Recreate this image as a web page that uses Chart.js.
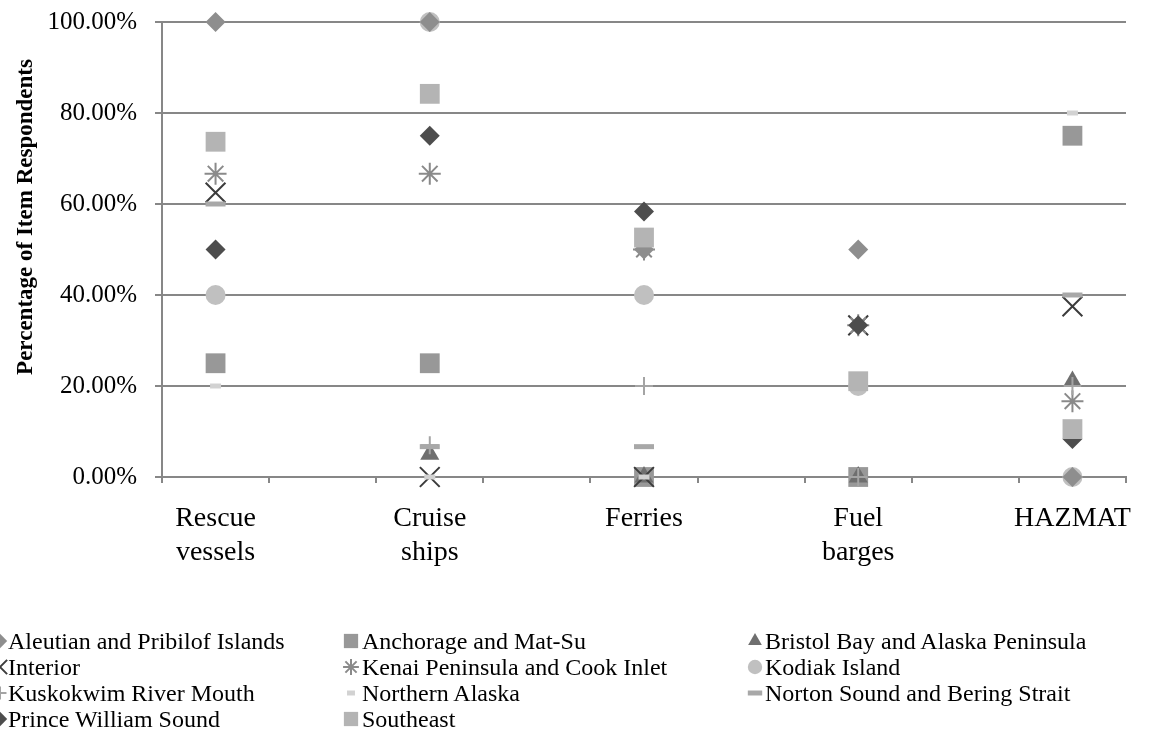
<!DOCTYPE html>
<html lang="en">
<head>
<meta charset="UTF-8">
<title>Vessel types by region</title>
<script src="https://cdn.jsdelivr.net/npm/chart.js"></script>
<style>
  body { margin: 0; background: #fff; }
  #wrap { position: relative; width: 1156px; height: 748px; overflow: hidden; }
  #legend { position: absolute; left: 0; top: 0; width: 1156px; height: 748px; }
  .item { position: absolute; height: 26px; line-height: 26px; font-family: "Liberation Serif", "Times New Roman", serif; font-size: 24px; color: #000; white-space: nowrap; }
  .mark { position: absolute; }
</style>
</head>
<body>
<div id="wrap">
  <canvas id="chart" width="1156" height="748"></canvas>
  <div id="legend"></div>
</div>
<script>
  // categories (x) and one array per region, shares of item respondents
  const categories = ['Rescue vessels', 'Cruise ships', 'Ferries', 'Fuel barges', 'HAZMAT'];

  const aleutian   = [1.0,    1.0,    0.5,    0.5,    0];
  const anchorage  = [0.25,   0.25,   0,      0,      0.75];
  const bristol    = [null,   0.05,   0,      0,      0.21];
  const interior   = [0.625,  0,      0,      0.3333, 0.375];
  const kenai      = [0.6667, 0.6667, 0.5,    0.3333, 0.1667];
  const kodiak     = [0.4,    1.0,    0.4,    0.2,    0];
  const kuskokwim  = [null,   0.07,   0.2,    0,      0.2];
  const northern   = [0.2,    0,      0,      null,   0.8];
  const norton     = [0.6,    0.0667, 0.0667, null,   0.4];
  const pws        = [0.5,    0.75,   0.5833, 0.3333, 0.0833];
  const southeast  = [0.7368, 0.8421, 0.5263, 0.2105, 0.1053];

  const yTickValues = [0, 0.2, 0.4, 0.6, 0.8, 1.0];

  const series = [
    { name: 'Aleutian and Pribilof Islands',   values: aleutian,  style: 'rectRot',  r: 10,  color: '#8e8e8e', bw: 0, z: 6 },
    { name: 'Anchorage and Mat-Su',            values: anchorage, style: 'rect',     r: 14,  color: '#989898', bw: 0, z: 11 },
    { name: 'Bristol Bay and Alaska Peninsula',values: bristol,   style: 'triangle', r: 11,  color: '#6f6f6f', bw: 0, z: 10 },
    { name: 'Interior',                        values: interior,  style: 'crossRot', r: 14,  color: '#3c3c3c', bw: 2, z: 9 },
    { name: 'Kenai Peninsula and Cook Inlet',  values: kenai,     style: 'star',     r: 11,  color: '#8a8a8a', bw: 2, z: 8 },
    { name: 'Kodiak Island',                   values: kodiak,    style: 'circle',   r: 10,  color: '#c0c0c0', bw: 0, z: 7 },
    { name: 'Kuskokwim River Mouth',           values: kuskokwim, style: 'cross',    r: 9,   color: '#a4a4a4', bw: 2, z: 5 },
    { name: 'Northern Alaska',                 values: northern,  style: 'line',     r: 5.5, color: '#d2d2d2', bw: 5, z: 4 },
    { name: 'Norton Sound and Bering Strait',  values: norton,    style: 'line',     r: 10,  color: '#a8a8a8', bw: 5, z: 3 },
    { name: 'Prince William Sound',            values: pws,       style: 'rectRot',  r: 10,  color: '#4d4d4d', bw: 0, z: 2 },
    { name: 'Southeast',                       values: southeast, style: 'rect',     r: 14,  color: '#b4b4b4', bw: 0, z: 1 }
  ];

  // the category axis in the original has an empty slot between each category
  function spread(arr, gap) {
    const out = [];
    arr.forEach((v, i) => { if (i) out.push(gap); out.push(v); });
    return out;
  }

  const labels = spread(categories.map(c => c.split(' ')), '');
  const gridGray = '#878787';
  const serif = '"Liberation Serif", "Times New Roman", serif';

  const yTitle = {
    id: 'yTitle',
    afterDraw(chart) {
      const ctx = chart.ctx;
      ctx.save();
      ctx.translate(26, 217);
      ctx.rotate(-Math.PI / 2);
      ctx.font = 'bold 23px ' + serif;
      ctx.fillStyle = '#000';
      ctx.textAlign = 'center';
      ctx.textBaseline = 'middle';
      ctx.fillText('Percentage of Item Respondents', 0, 0);
      ctx.restore();
    }
  };

  new Chart(document.getElementById('chart'), {
    type: 'line',
    data: {
      labels: labels,
      datasets: series.map(s => ({
        label: s.name,
        data: spread(s.values, null),
        showLine: false,
        clip: false,
        pointStyle: s.style,
        pointRadius: s.r,
        pointHoverRadius: s.r,
        pointBackgroundColor: s.color,
        pointBorderColor: s.color,
        pointBorderWidth: s.bw,
        order: s.z
      }))
    },
    options: {
      responsive: false,
      animation: false,
      devicePixelRatio: 1,
      layout: { padding: { top: 22, right: 30, left: 0, bottom: 0 } },
      plugins: { legend: { display: false }, tooltip: { enabled: false } },
      scales: {
        x: {
          offset: true,
          grid: { offset: true, drawOnChartArea: false, tickLength: 6, color: gridGray, lineWidth: 2 },
          border: { color: gridGray, width: 2 },
          ticks: { autoSkip: false, maxRotation: 0, color: '#000', padding: 19,
                   font: { family: serif, size: 28, lineHeight: 1.2 } },
          afterFit: s => { s.height = 271; }
        },
        y: {
          min: 0,
          max: 1,
          afterBuildTicks: s => { s.ticks = yTickValues.map(v => ({ value: v })); },
          grid: { color: gridGray, lineWidth: 2, tickLength: 7 },
          border: { color: gridGray, width: 2 },
          ticks: { color: '#000', padding: 18, font: { family: serif, size: 25 },
                   callback: v => (v * 100).toFixed(2) + '%' },
          afterFit: s => { s.width = 162; s.paddingTop = 0; s.paddingBottom = 0; }
        }
      }
    },
    plugins: [yTitle]
  });

  // legend laid out as the original's 3-column grid
  const colMark = [0, 351, 755];
  const colText = [8, 362, 765];
  const rowMid = [641, 667, 693, 719];
  const legend = document.getElementById('legend');
  series.forEach((s, i) => {
    const row = Math.floor(i / 3), col = i % 3;
    const c = document.createElement('canvas');
    c.width = 30; c.height = 26;
    c.className = 'mark';
    c.style.left = (colMark[col] - 15) + 'px';
    c.style.top = (rowMid[row] - 13) + 'px';
    const ctx = c.getContext('2d');
    ctx.fillStyle = s.color;
    ctx.strokeStyle = s.color;
    ctx.lineWidth = s.bw;
    Chart.helpers.drawPoint(ctx, { pointStyle: s.style, radius: s.r * 0.72, rotation: 0, borderWidth: s.bw }, 15, 13);
    legend.appendChild(c);
    const t = document.createElement('div');
    t.className = 'item';
    t.textContent = s.name;
    t.style.left = colText[col] + 'px';
    t.style.top = (rowMid[row] - 13) + 'px';
    legend.appendChild(t);
  });
</script>
</body>
</html>
